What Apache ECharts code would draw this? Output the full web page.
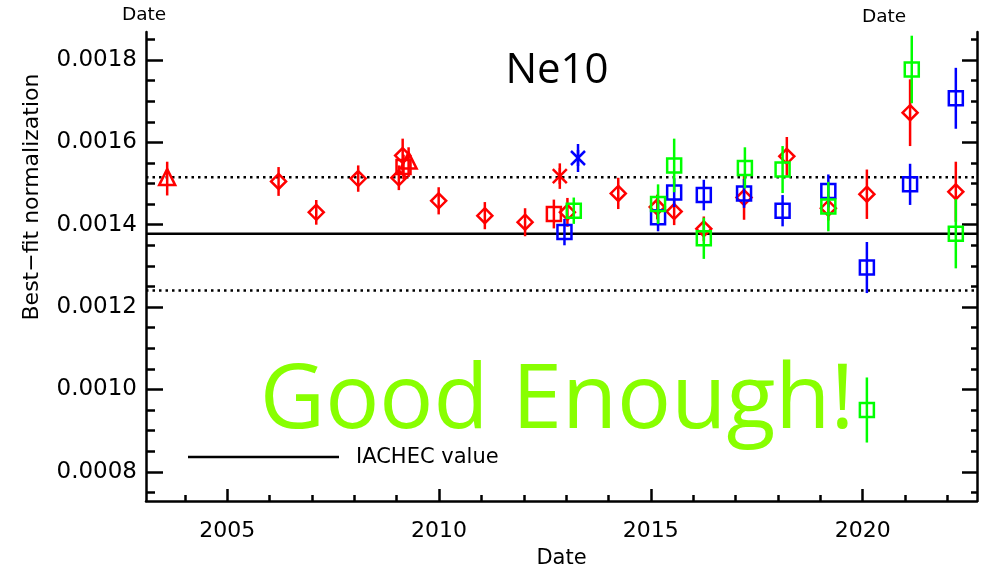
<!DOCTYPE html>
<html>
<head>
<meta charset="utf-8">
<script src="https://cdn.jsdelivr.net/npm/echarts@6/dist/echarts.min.js"></script>
<style>html,body{margin:0;padding:0;background:#fff}#c{width:982px;height:574px}</style>
</head>
<body>
<div id="c"></div>
<script>
// ---- data ----
const xRange = [2003.08, 2022.70];
const yRange = [0.000729, 0.001868];
const xTickLabels = [2005, 2010, 2015, 2020];
const yTickLabels = [0.0008, 0.0010, 0.0012, 0.0014, 0.0016, 0.0018];
const iachecValue = 0.001378;
const iachecUpper = 0.001515;
const iachecLower = 0.00124;

// each point: [date, best-fit normalization, error]
const redDiamonds = [
  [2006.21, 0.001505, 0.000035],
  [2007.10, 0.001430, 0.000030],
  [2008.09, 0.001512, 0.000032],
  [2009.05, 0.001514, 0.000030],
  [2009.14, 0.001568, 0.000041],
  [2009.99, 0.001458, 0.000033],
  [2011.08, 0.001422, 0.000033],
  [2012.03, 0.001406, 0.000034],
  [2013.03, 0.001430, 0.000035],
  [2014.23, 0.001476, 0.000038],
  [2015.15, 0.001443, 0.000030],
  [2015.55, 0.001432, 0.000033],
  [2016.25, 0.001390, 0.000030],
  [2017.20, 0.001466, 0.000054],
  [2018.21, 0.001566, 0.000047],
  [2019.19, 0.001440, 0.000030],
  [2020.10, 0.001474, 0.000060],
  [2021.12, 0.001672, 0.000081],
  [2022.20, 0.001480, 0.000073]
];
const redSquares = [
  [2009.16, 0.001540, 0.000030],
  [2012.71, 0.001426, 0.000035]
];
const redTriangles = [
  [2003.58, 0.001512, 0.000041],
  [2009.28, 0.001552, 0.000036]
];
const redAsterisks = [
  [2012.85, 0.001518, 0.000031]
];
const blueSquares = [
  [2012.96, 0.001382, 0.000032],
  [2015.17, 0.001418, 0.000034],
  [2015.55, 0.001478, 0.000035],
  [2016.25, 0.001472, 0.000037],
  [2017.20, 0.001476, 0.000035],
  [2018.11, 0.001434, 0.000038],
  [2019.19, 0.001482, 0.000040],
  [2020.10, 0.001296, 0.000062],
  [2021.12, 0.001498, 0.000050],
  [2022.20, 0.001707, 0.000074]
];
const blueAsterisks = [
  [2013.28, 0.001562, 0.000034]
];
const greenSquares = [
  [2013.18, 0.001434, 0.000032],
  [2015.17, 0.001450, 0.000048],
  [2015.55, 0.001544, 0.000065],
  [2016.25, 0.001367, 0.000050],
  [2017.22, 0.001538, 0.000050],
  [2018.11, 0.001534, 0.000057],
  [2019.19, 0.001444, 0.000060],
  [2020.10, 0.000950, 0.000079],
  [2021.16, 0.001777, 0.000082],
  [2022.20, 0.001378, 0.000084]
];

// ---- minor ticks ----
const yMinorTicks = [];
for (let k = 15; k <= 37; k++) if (k % 4 !== 0) yMinorTicks.push(+(k * 0.00005).toFixed(6));
const xMinorTicks = [];
for (let yr = 2004; yr <= 2022; yr++) if (yr % 5 !== 0) xMinorTicks.push(yr);

const LW = 2.5;
function makeRender(shape, color) {
  return function (params, api) {
    const x = api.value(0), y = api.value(1), e = api.value(2);
    const c = api.coord([x, y]);
    const t = api.coord([x, y + e]);
    const b = api.coord([x, y - e]);
    const st = { stroke: color, lineWidth: LW, fill: 'none' };
    const cx = c[0], cy = c[1];
    const kids = [{ type: 'line', shape: { x1: cx, y1: t[1], x2: cx, y2: b[1] }, style: st }];
    const ln = (x1, y1, x2, y2) => ({ type: 'line', shape: { x1, y1, x2, y2 }, style: st });
    if (shape === 'square') {
      kids.push({ type: 'rect', shape: { x: cx - 7, y: cy - 7, width: 14, height: 14 }, style: st });
    } else if (shape === 'diamond') {
      kids.push({ type: 'polygon', shape: { points: [[cx, cy - 7.5], [cx + 7.5, cy], [cx, cy + 7.5], [cx - 7.5, cy]] }, style: st });
    } else if (shape === 'triangle') {
      kids.push({ type: 'polygon', shape: { points: [[cx, cy - 9.5], [cx + 8, cy + 6.5], [cx - 8, cy + 6.5]] }, style: st });
    } else if (shape === 'asterisk') {
      kids.push(ln(cx - 7, cy - 7, cx + 7, cy + 7));
      kids.push(ln(cx + 7, cy - 7, cx - 7, cy + 7));
      kids.push(ln(cx, cy - 8, cx, cy + 8));
    }
    return { type: 'group', children: kids };
  };
}
function pts(name, data, shape, color) {
  return {
    type: 'custom', name, data, renderItem: makeRender(shape, color),
    encode: { x: 0, y: 1 }, xAxisIndex: 0, yAxisIndex: 0, clip: false, z: 5
  };
}
function hline(name, v, type) {
  return {
    type: 'line', name, data: [[xRange[0], v], [xRange[1], v]], symbol: 'none',
    xAxisIndex: 0, yAxisIndex: 0, silent: true, z: 3,
    lineStyle: { color: '#000', width: LW, type: type }
  };
}

const black = '#000';
const axisFont = '"DejaVu Sans", sans-serif';
function yAxisDef(pos, major, showLine) {
  return {
    type: 'value', position: pos, min: yRange[0], max: yRange[1],
    axisLine: { show: showLine, lineStyle: { color: black, width: LW } },
    axisTick: { show: true, inside: true, length: pos === 'left' ? (major ? 17 : 9) : (major ? 15 : 6),
      customValues: major ? yTickLabels : yMinorTicks, lineStyle: { color: black, width: LW } },
    axisLabel: { show: major && pos === 'left', customValues: yTickLabels, margin: 9,
      formatter: v => v.toFixed(4), color: black, fontSize: 23, fontFamily: axisFont },
    splitLine: { show: false }, minorTick: { show: false }
  };
}
function xAxisDef(major) {
  return {
    type: 'value', position: 'bottom', min: xRange[0], max: xRange[1],
    axisLine: { show: major, onZero: false, lineStyle: { color: black, width: LW } },
    axisTick: { show: true, inside: true, length: major ? 12 : 6,
      customValues: major ? xTickLabels : xMinorTicks, lineStyle: { color: black, width: LW } },
    axisLabel: { show: major, customValues: xTickLabels, margin: 19,
      formatter: v => String(Math.round(v)), color: black, fontSize: 22, fontFamily: axisFont },
    name: major ? 'Date' : '', nameLocation: 'middle', nameGap: 47,
    nameTextStyle: { color: black, fontSize: 21, fontFamily: axisFont },
    splitLine: { show: false }
  };
}

const chart = echarts.init(document.getElementById('c'), null, { renderer: 'canvas' });
chart.setOption({
  animation: false,
  backgroundColor: '#fff',
  grid: { left: 146, right: 5, top: 32, bottom: 70, containLabel: false },
  xAxis: [xAxisDef(true), xAxisDef(false)],
  yAxis: [yAxisDef('left', true, true), yAxisDef('left', false, false),
          yAxisDef('right', true, true), yAxisDef('right', false, false)],
  series: [
    hline('IACHEC value', iachecValue, 'solid'),
    hline('IACHEC +10%', iachecUpper, [2.5, 4]),
    hline('IACHEC -10%', iachecLower, [2.5, 4]),
    pts('red diamonds', redDiamonds, 'diamond', '#ff0000'),
    pts('red squares', redSquares, 'square', '#ff0000'),
    pts('red triangles', redTriangles, 'triangle', '#ff0000'),
    pts('red asterisks', redAsterisks, 'asterisk', '#ff0000'),
    pts('blue squares', blueSquares, 'square', '#0000ff'),
    pts('blue asterisks', blueAsterisks, 'asterisk', '#0000ff'),
    pts('green squares', greenSquares, 'square', '#00ff00')
  ],
  graphic: [
    { type: 'text', x: 557, y: 71, z: 10, style: { text: 'Ne10', font: '42px "Open Sans", sans-serif', fill: '#000', textAlign: 'center', textVerticalAlign: 'middle' } },
    { type: 'text', x: 557, y: 402, z: 1, style: { text: 'Good Enough!', font: '90px "Open Sans", sans-serif', fill: '#88ff00', textAlign: 'center', textVerticalAlign: 'middle' } },
    { type: 'line', z: 10, shape: { x1: 188, y1: 457, x2: 339, y2: 457 }, style: { stroke: '#000', lineWidth: LW } },
    { type: 'text', x: 356, y: 458, z: 10, style: { text: 'IACHEC value', font: '21px "DejaVu Sans", sans-serif', fill: '#000', textAlign: 'left', textVerticalAlign: 'middle' } },
    { type: 'text', x: 144, y: 15, z: 10, style: { text: 'Date', font: '18.5px "DejaVu Sans", sans-serif', fill: '#000', textAlign: 'center', textVerticalAlign: 'middle' } },
    { type: 'text', x: 884, y: 17, z: 10, style: { text: 'Date', font: '18.5px "DejaVu Sans", sans-serif', fill: '#000', textAlign: 'center', textVerticalAlign: 'middle' } },
    { type: 'text', x: 32, y: 197, rotation: Math.PI / 2, z: 10, style: { text: 'Best\u2212fit normalization', font: '22px "DejaVu Sans", sans-serif', fill: '#000', textAlign: 'center', textVerticalAlign: 'middle' } }
  ]
});
</script>
</body>
</html>
